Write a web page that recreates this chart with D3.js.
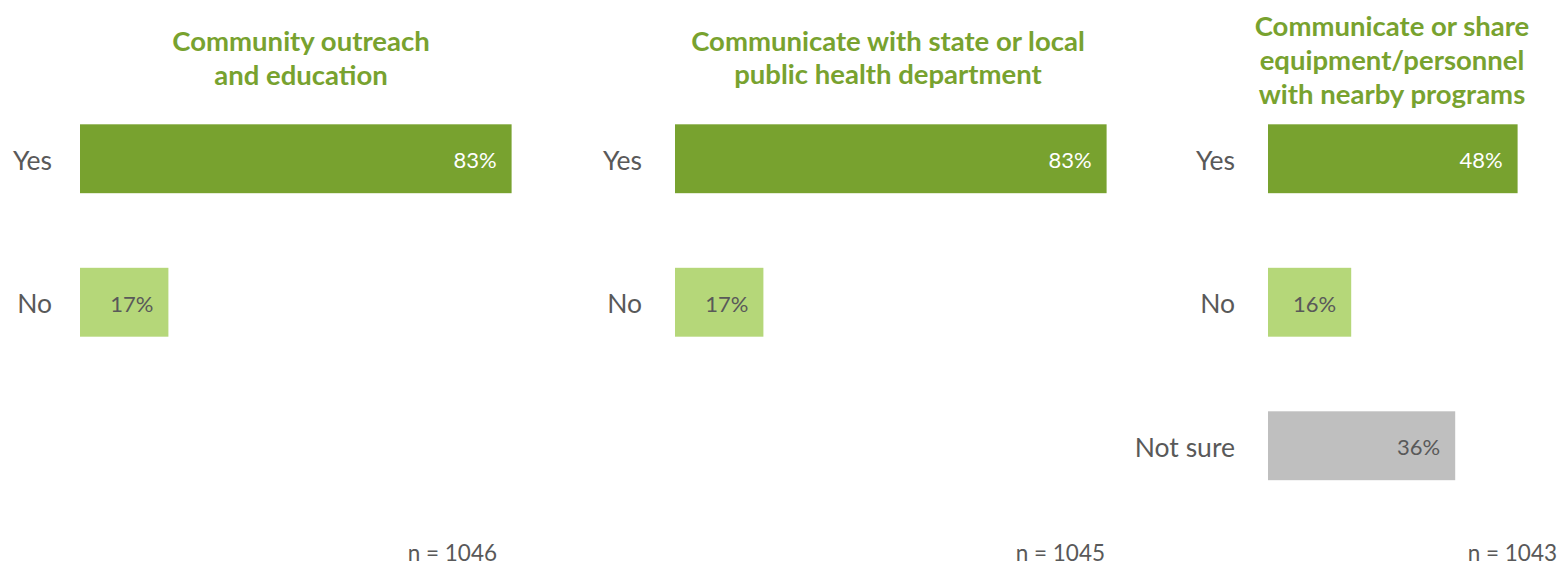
<!DOCTYPE html>
<html>
<head>
<meta charset="utf-8">
<script src="https://cdn.jsdelivr.net/npm/d3@7"></script>
<style>
  html, body { margin: 0; padding: 0; background: #ffffff; }
  svg { display: block; }
  text { font-family: Lato, "Liberation Sans", sans-serif; }
</style>
</head>
<body>
<svg id="chart" width="1562" height="568"></svg>
<script>
// ---- Data ----
const panelTitles = [
  ["Community outreach", "and education"],
  ["Communicate with state or local", "public health department"],
  ["Communicate or share", "equipment/personnel", "with nearby programs"]
];
const categories = ["Yes", "No", "Not sure"];
const panel1Values = [83, 17];
const panel2Values = [83, 17];
const panel3Values = [48, 16, 36];
const sampleSizes = ["n = 1046", "n = 1045", "n = 1043"];

const panelValues = [panel1Values, panel2Values, panel3Values];

// ---- Layout ----
const svg = d3.select("#chart");
const colors = { "Yes": "#78a22f", "No": "#b5d779", "Not sure": "#bfbfbf" };
const labelColors = { "Yes": "#ffffff", "No": "#595959", "Not sure": "#595959" };
const titleColor = "#78a22f";
const textColor = "#595959";

const panels = [
  { x0: 80,   nRight: 497,  titleX: 301,  titleY: [40, 74] },
  { x0: 675,  nRight: 1105, titleX: 888,  titleY: [40, 73] },
  { x0: 1268, nRight: 1557, titleX: 1392, titleY: [25, 59, 93] }
];

const y = d3.scaleBand()
  .domain(categories)
  .range([87, 517.5])
  .paddingInner(0.52)
  .paddingOuter(0.26);

panels.forEach((p, i) => {
  const g = svg.append("g");
  const x = d3.scaleLinear().domain([0, 100]).range([p.x0, p.x0 + 520]);
  const vals = panelValues[i];
  const data = vals.map((v, k) => ({ cat: categories[k], v }));

  // title
  g.append("text")
    .attr("text-anchor", "middle")
    .attr("fill", titleColor)
    .attr("font-weight", "bold")
    .attr("font-size", 27.5)
    .selectAll("tspan")
    .data(panelTitles[i])
    .join("tspan")
    .attr("x", p.titleX)
    .attr("y", (d, k) => p.titleY[k])
    .attr("dominant-baseline", "central")
    .text(d => d);

  // bars
  g.selectAll("rect.bar")
    .data(data)
    .join("rect")
    .attr("class", "bar")
    .attr("x", x(0))
    .attr("y", d => y(d.cat))
    .attr("width", d => x(d.v) - x(0))
    .attr("height", y.bandwidth())
    .attr("fill", d => colors[d.cat]);

  // value labels (inside end)
  g.selectAll("text.val")
    .data(data)
    .join("text")
    .attr("class", "val")
    .attr("x", d => x(d.v) - 15)
    .attr("y", d => y(d.cat) + y.bandwidth() / 2 + 1)
    .attr("text-anchor", "end")
    .attr("dominant-baseline", "central")
    .attr("font-size", 22)
    .attr("fill", d => labelColors[d.cat])
    .text(d => d.v + "%");

  // category labels
  g.selectAll("text.cat")
    .data(data)
    .join("text")
    .attr("class", "cat")
    .attr("x", x(0) - (i === 0 ? 28 : 33))
    .attr("y", d => y(d.cat) + y.bandwidth() / 2 + 1)
    .attr("text-anchor", "end")
    .attr("dominant-baseline", "central")
    .attr("font-size", 26.5)
    .attr("fill", textColor)
    .text(d => d.cat);

  // sample size
  g.append("text")
    .attr("x", p.nRight)
    .attr("y", 552)
    .attr("text-anchor", "end")
    .attr("dominant-baseline", "central")
    .attr("font-size", 22.5)
    .attr("fill", textColor)
    .text(sampleSizes[i]);
});
</script>
</body>
</html>
